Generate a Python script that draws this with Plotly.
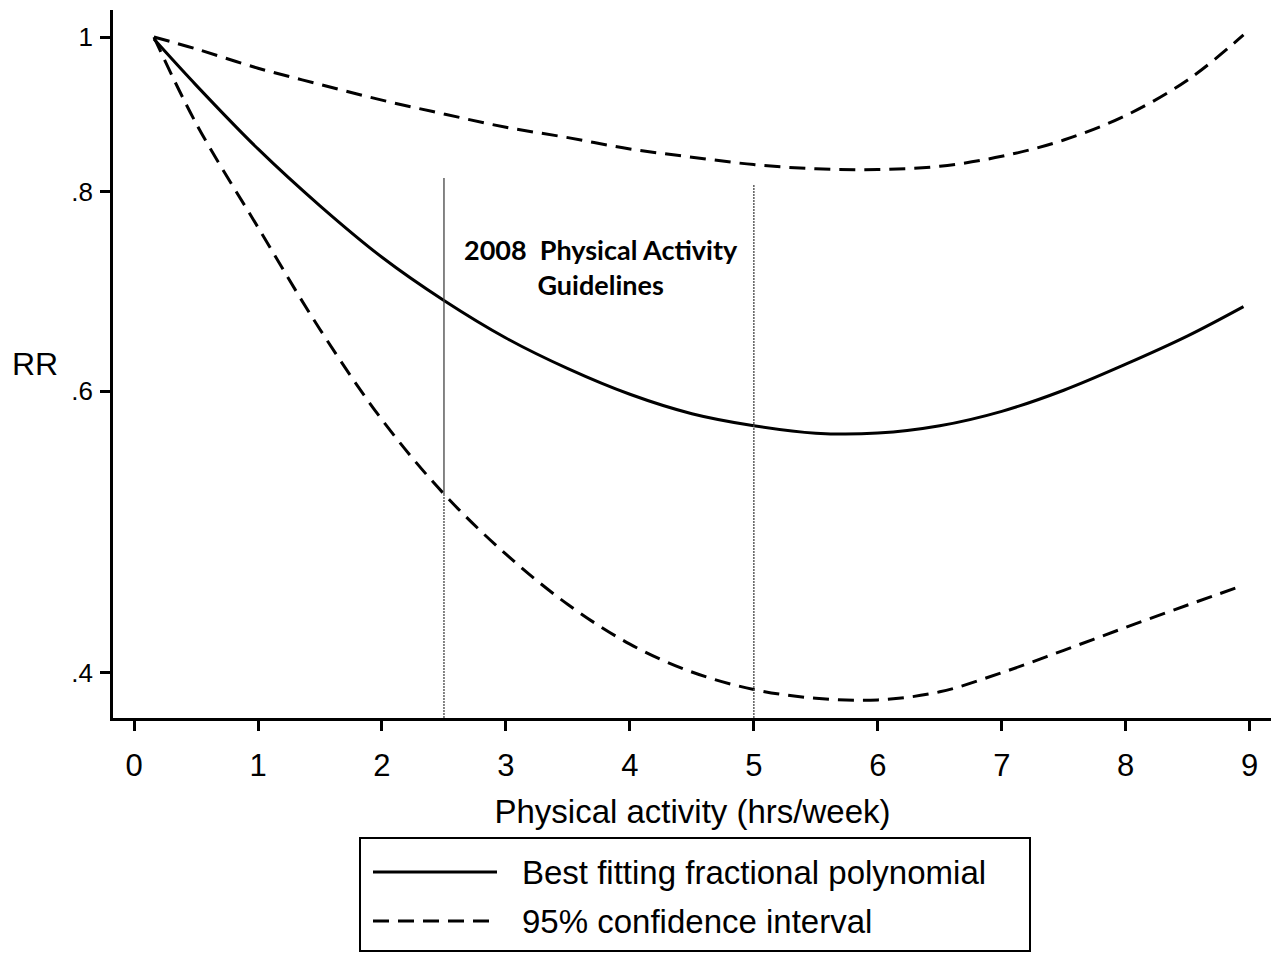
import numpy as np
import plotly.graph_objects as go

# ---- data ----
activity_hrs = [0.16, 0.5, 1, 1.5, 2, 2.5, 3, 3.5, 4, 4.5, 5, 5.5, 6, 6.5, 7, 7.5, 8, 8.5, 8.95]
rr_fit = [0.997, 0.933, 0.851, 0.784, 0.728, 0.684, 0.648, 0.620, 0.5975, 0.581, 0.571,
          0.5649, 0.5650, 0.571, 0.583, 0.601, 0.624, 0.650, 0.678]
rr_upper = [1.0, 0.983, 0.956, 0.934, 0.913, 0.895, 0.878, 0.865, 0.851, 0.841, 0.832,
            0.827, 0.826, 0.830, 0.842, 0.862, 0.893, 0.940, 1.003]
rr_lower = [1.0, 0.883, 0.760, 0.656, 0.576, 0.5175, 0.4745, 0.4413, 0.4168, 0.4004, 0.3904,
            0.3855, 0.3846, 0.3891, 0.4000, 0.4131, 0.427, 0.441, 0.4537]

x_ticks = [0, 1, 2, 3, 4, 5, 6, 7, 8, 9]
y_ticks = [1, 0.8, 0.6, 0.4]
y_tick_labels = ["1", ".8", ".6", ".4"]

guideline_low = 2.5
guideline_high = 5
guideline_low_top = 0.816
guideline_high_top = 0.808
guideline_text = "2008\u00a0 Physical Activity<br>Guidelines"
legend_labels = ["Best fitting fractional polynomial", "95% confidence interval"]

x_title = "Physical activity (hrs/week)"
y_title = "RR"

# ---- layout geometry (reference pixel frame; page has an 8px body offset) ----
W, H = 1279, 954
OFF = 8
PLOT_L, PLOT_R, PLOT_T, PLOT_B = 113, 1272, 10, 718
ML, MR, MT, MB = PLOT_L - OFF, W - (PLOT_R - OFF), PLOT_T - OFF, H - (PLOT_B - OFF)
x_range = [-0.17, 9.18]
y_range_vals = [0.3747, 1.0397]
PW, PH = PLOT_R - PLOT_L, PLOT_B - PLOT_T


def px_x(p):
    return (p - PLOT_L) / PW


def px_y(p):
    return (PLOT_B - p) / PH


DASH = "16px,9px"
fig = go.Figure()

# curves
fig.add_trace(go.Scatter(x=activity_hrs, y=rr_upper, mode="lines", name=legend_labels[1],
                         line=dict(color="black", width=3, dash=DASH, shape="spline"),
                         showlegend=False))
fig.add_trace(go.Scatter(x=activity_hrs, y=rr_lower, mode="lines", name=legend_labels[1],
                         line=dict(color="black", width=3, dash=DASH, shape="spline"),
                         showlegend=False))
fig.add_trace(go.Scatter(x=activity_hrs, y=rr_fit, mode="lines", name=legend_labels[0],
                         line=dict(color="black", width=3, shape="spline"),
                         showlegend=False))

# guideline lines
cross = float(np.interp(guideline_low, activity_hrs, rr_lower))
fig.add_trace(go.Scatter(x=[guideline_low, guideline_low], y=[guideline_low_top, cross],
                         mode="lines", line=dict(color="#444", width=1.3),
                         showlegend=False, hoverinfo="skip"))
fig.add_trace(go.Scatter(x=[guideline_low, guideline_low], y=[cross, y_range_vals[0]],
                         mode="lines", line=dict(color="#444", width=1.3, dash="2px,1px"),
                         showlegend=False, hoverinfo="skip"))
fig.add_trace(go.Scatter(x=[guideline_high, guideline_high], y=[guideline_high_top, y_range_vals[0]],
                         mode="lines", line=dict(color="#444", width=1.3, dash="2px,1px"),
                         showlegend=False, hoverinfo="skip"))

FONT = "Liberation Sans, Arial, sans-serif"
x_tick_font = dict(family=FONT, size=31, color="black")
big_font = dict(family=FONT, size=33, color="black")

fig.update_layout(
    width=W, height=H,
    margin=dict(l=ML, r=MR, t=MT, b=MB, autoexpand=False),
    paper_bgcolor="white", plot_bgcolor="white",
    showlegend=False,
    xaxis=dict(range=x_range, tickvals=x_ticks, showgrid=False, zeroline=False,
               showline=True, linecolor="black", linewidth=2.5,
               ticks="outside", ticklen=10, tickwidth=2.5, tickcolor="black",
               tickfont=x_tick_font, ticklabelstandoff=8,
               title=dict(text=x_title, font=big_font, standoff=18)),
    yaxis=dict(type="log", range=[np.log10(y_range_vals[0]), np.log10(y_range_vals[1])],
               tickvals=y_ticks, ticktext=y_tick_labels, showgrid=False, zeroline=False,
               showline=True, linecolor="black", linewidth=2.5,
               ticks="outside", ticklen=10, tickwidth=2.5, tickcolor="black",
               ticklabelstandoff=2,
               tickfont=dict(family=FONT, size=26, color="black")),
)

# y title (horizontal)
fig.add_annotation(text=y_title, xref="paper", yref="paper", x=px_x(35), y=px_y(364),
                   showarrow=False, xanchor="center", yanchor="middle",
                   font=dict(family=FONT, size=32, color="black"))

# guideline label
fig.add_annotation(text=guideline_text, xref="paper", yref="paper", x=px_x(601), y=px_y(267),
                   showarrow=False, xanchor="center", yanchor="middle", align="center",
                   font=dict(family="Lato, Carlito, sans-serif", size=27, color="black", weight="bold"))

# manual legend box
fig.add_shape(type="rect", xref="paper", yref="paper",
              x0=px_x(360), x1=px_x(1030), y0=px_y(951), y1=px_y(838),
              line=dict(color="black", width=2), fillcolor="white", layer="above")
legend_rows = [(872, None), (921, DASH)]
for (row_y, dash), label in zip(legend_rows, legend_labels):
    fig.add_shape(type="line", xref="paper", yref="paper",
                  x0=px_x(373), x1=px_x(497), y0=px_y(row_y), y1=px_y(row_y),
                  line=dict(color="black", width=3, dash=dash if dash else "solid"))
    fig.add_annotation(text=label, xref="paper", yref="paper", x=px_x(520), y=px_y(row_y),
                       showarrow=False, xanchor="left", yanchor="middle",
                       font=big_font)

fig.write_html("out.html")
